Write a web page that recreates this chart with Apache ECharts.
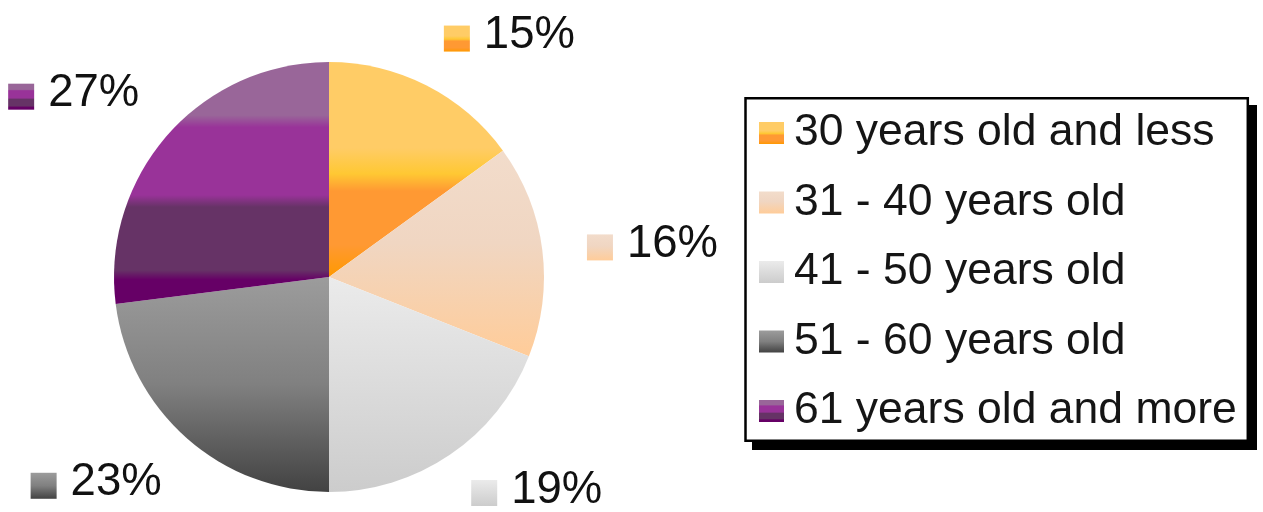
<!DOCTYPE html>
<html>
<head>
<meta charset="utf-8">
<script src="https://cdn.jsdelivr.net/npm/echarts@6/dist/echarts.min.js"></script>
<style>
html,body{margin:0;padding:0;background:#fff;}
#chart{width:1263px;height:512px;}
</style>
</head>
<body>
<div id="chart"></div>
<script>
// ---- data ----
const categories = ['30 years old and less', '31 - 40 years old', '41 - 50 years old', '51 - 60 years old', '61 years old and more'];
const values = [15, 16, 19, 23, 27];

// ---- styles ----
const sliceStops = [
  [[0,'#FFCC66'],[0.4,'#FFCC66'],[0.52,'#FFC833'],[0.6,'#FF9933'],[0.85,'#FF9933'],[1,'#FF9900']],
  [[0,'#F2DCCB'],[0.45,'#F0D6C2'],[1,'#FFCC99']],
  [[0,'#EBEBEB'],[1,'#CCCCCC']],
  [[0,'#9C9C9C'],[0.5,'#808080'],[1,'#424242']],
  [[0,'#996699'],[0.22,'#996699'],[0.27,'#993399'],[0.55,'#993399'],[0.6,'#663366'],[0.86,'#663366'],[0.9,'#660066'],[1,'#660066']]
];
function grad(stops){
  return new echarts.graphic.LinearGradient(0,0,0,1, stops.map(s=>({offset:s[0],color:s[1]})));
}
const CX = 329, CY = 277, R = 215;
const LABEL_GAP = 38, LABEL_GAP_SIDE = 45, LABEL_BOTTOM_LIMIT = 506, LABEL_H = 32;
const FONT = 'Liberation Sans, Arial, sans-serif';

const chart = echarts.init(document.getElementById('chart'), null, {renderer:'canvas'});

const rich = {
  t: {fontSize:45.5, fontFamily:FONT, color:'#111', lineHeight:LABEL_H, padding:[0,0,0,14]}
};
sliceStops.forEach((s,i)=>{ rich['sq'+i] = {width:26, height:26, verticalAlign:'bottom', backgroundColor:grad(s)}; });

const total = values.reduce((a,b)=>a+b,0);

chart.setOption({
  animation:false,
  backgroundColor:'#fff',
  graphic:[
    {type:'rect', z:0, shape:{x:752, y:105, width:505, height:345}, style:{fill:'#000'}},
    {type:'rect', z:1, shape:{x:745.5, y:98.2, width:502.3, height:342.5}, style:{fill:'#fff', stroke:'#000', lineWidth:2.5}}
  ],
  legend:{
    orient:'vertical',
    left:748, top:100,
    padding:[6,10,0,11],
    z:10,
    itemWidth:25, itemHeight:22,
    itemGap:15.5,
    icon:'rect',
    data:categories,
    textStyle:{fontSize:44.5, fontFamily:FONT, color:'#151515', lineHeight:44, padding:[0,0,10,5]}
  },
  series:[{
    type:'pie',
    center:[CX, CY],
    radius:R,
    startAngle:90,
    clockwise:true,
    silent:true,
    itemStyle:{borderWidth:0},
    label:{
      show:true,
      position:'outside',
      overflow:'none',
      edgeDistance:0,
      formatter:p => '{sq'+p.dataIndex+'|}{t|'+p.value+'%}',
      rich:rich
    },
    labelLine:{show:false},
    labelLayout: function(params){
      const i = params.dataIndex;
      let start = 0;
      for (let k=0;k<i;k++) start += values[k];
      const mid = (start + values[i]/2)/total * Math.PI*2;
      const dx = Math.sin(mid), dy = -Math.cos(mid);
      const side = Math.abs(dy) < 0.3;
      const d = R + (side ? LABEL_GAP_SIDE : LABEL_GAP);
      let y = CY + d*dy;
      const va = side ? 'middle' : (dy < 0 ? 'bottom' : 'top');
      if (va === 'top' && y + LABEL_H > LABEL_BOTTOM_LIMIT) y = LABEL_BOTTOM_LIMIT - LABEL_H;
      return {
        x: CX + d*dx,
        y: y,
        align: dx >= 0 ? 'left' : 'right',
        verticalAlign: va
      };
    },
    data: categories.map((c,i)=>({name:c, value:values[i], itemStyle:{color:grad(sliceStops[i])}}))
  }]
});
</script>
</body>
</html>
